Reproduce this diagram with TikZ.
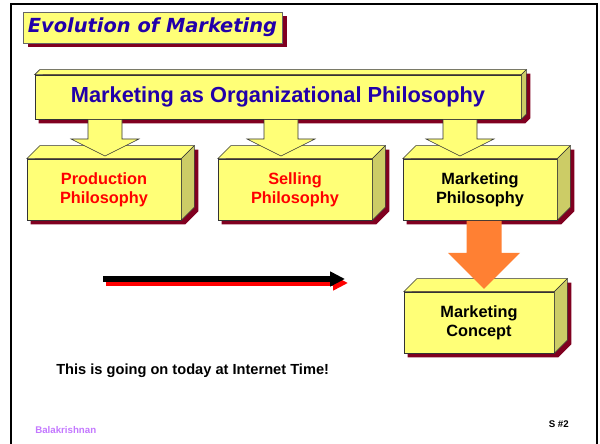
\documentclass[tikz,border=0pt]{standalone}
\usepackage{fontspec}
\setmainfont{Liberation Sans}
\newfontfamily\titlefont{DejaVu Sans}
\usetikzlibrary{arrows.meta, backgrounds}
\definecolor{slabyellow}{RGB}{255,255,119}
\definecolor{slabdark}{RGB}{204,204,102}
\definecolor{shadowred}{RGB}{128,0,32}
\definecolor{headblue}{RGB}{34,0,170}
\definecolor{pushorange}{RGB}{255,128,51}
\definecolor{namepurple}{RGB}{196,120,255}

\begin{document}
\begin{tikzpicture}[x=0.025cm, y=-0.025cm,
    slab/.style={rectangle, draw=black!80, fill=slabyellow, inner sep=0pt, align=center, minimum width=3.85cm, minimum height=1.525cm, font=\bfseries\fontsize{11.6}{13.5}\selectfont},
    slabface/.style={draw=black!80, fill=slabyellow},
    slabside/.style={draw=black!80, fill=slabdark},
    dropshadow/.style={fill=shadowred},
    titlebox/.style={rectangle, draw=black!60, fill=slabyellow, inner sep=0pt, minimum width=6.475cm, minimum height=0.775cm, text=headblue, font=\titlefont\bfseries\itshape\fontsize{13.8}{16}\selectfont},
    downarrow/.style={draw=black!80, fill=slabyellow},
    timeline/.style={line width=3.6pt, -{Triangle[length=10.5pt, width=10pt]}},
    plain/.style={inner sep=0pt, font=\bfseries\fontsize{6.9}{8}\selectfont}
]
    \useasboundingbox (0,0) rectangle (600,444);
    \begin{scope}[on background layer]
        \fill[white] (0,0) rectangle (600,444);
    \end{scope}
    \draw[line width=2pt] (11,444) -- (11,4) -- (597,4) -- (597,444);

    \node[titlebox] (title) at (152.5,27.5) {Evolution of Marketing};
    \node[slab, minimum width=12.15cm, minimum height=1.1cm, text=headblue, font=\bfseries\fontsize{15.5}{18}\selectfont] (org) at (278,97) {Marketing as Organizational Philosophy};
    \node[slab, text=red] (prod) at (104,189.5) {Production\\Philosophy};
    \node[slab, text=red] (sell) at (295,189.5) {Selling\\Philosophy};
    \node[slab] (mphil) at (480,189.5) {Marketing\\Philosophy};
    \node[slab, minimum width=3.75cm] (concept) at (479,322.5) {Marketing\\Concept};

    \begin{scope}[on background layer]
        \fill[dropshadow] ([shift={(5,4)}]title.south west) rectangle ([shift={(5,4)}]title.north east);
    \end{scope}

    \foreach \n/\d in {org/5, prod/13, sell/13, mphil/13, concept/13} {
        \filldraw[slabface] (\n.north west) -- ++(\d,-\d) -- ([shift={(\d,-\d)}]\n.north east) -- (\n.north east) -- cycle;
        \filldraw[slabside] (\n.north east) -- ([shift={(\d,-\d)}]\n.north east) -- ([shift={(\d,-\d)}]\n.south east) -- (\n.south east) -- cycle;
        \begin{scope}[on background layer]
            \fill[dropshadow] ([shift={(4,4)}]\n.south west) -- ([shift={(4,4)}]\n.north west)
                -- ([shift={(\d+4,-\d+4)}]\n.north west) -- ([shift={(\d+4,-\d+4)}]\n.north east)
                -- ([shift={(\d+4,-\d+4)}]\n.south east) -- ([shift={(4,4)}]\n.south east) -- cycle;
        \end{scope}
    }

    \foreach \x in {105, 281, 460} {
        \filldraw[downarrow] ([yshift=-0.5pt]\x,0 |- org.south) ++(-17,0) -- ++(0,19) -- ++(-17,0) -- ++(34,17) -- ++(34,-17) -- ++(-17,0) -- ++(0,-19);
    }

    \fill[pushorange] ([yshift=-0.5pt]484,0 |- mphil.south) ++(-17.5,0) -- ++(0,32) -- ++(-18.5,0) -- ++(36,36) -- ++(36,-36) -- ++(-18.5,0) -- ++(0,-32) -- cycle;

    \coordinate (now0) at (103,279);
    \coordinate (now1) at (345,279);
    \draw[timeline, red] ([shift={(3,4)}]now0) -- ([shift={(3,4)}]now1);
    \draw[timeline, black] (now0) -- (now1);

    \node[plain, anchor=west, font=\bfseries\fontsize{10.4}{12}\selectfont] (today) at (56,371) {This is going on today at Internet Time!};
    \node[plain, anchor=west, text=namepurple] (author) at (35,430) {Balakrishnan};
    \node[plain, anchor=east] (slideno) at (569,424) {S \#2};
\end{tikzpicture}
\end{document}
